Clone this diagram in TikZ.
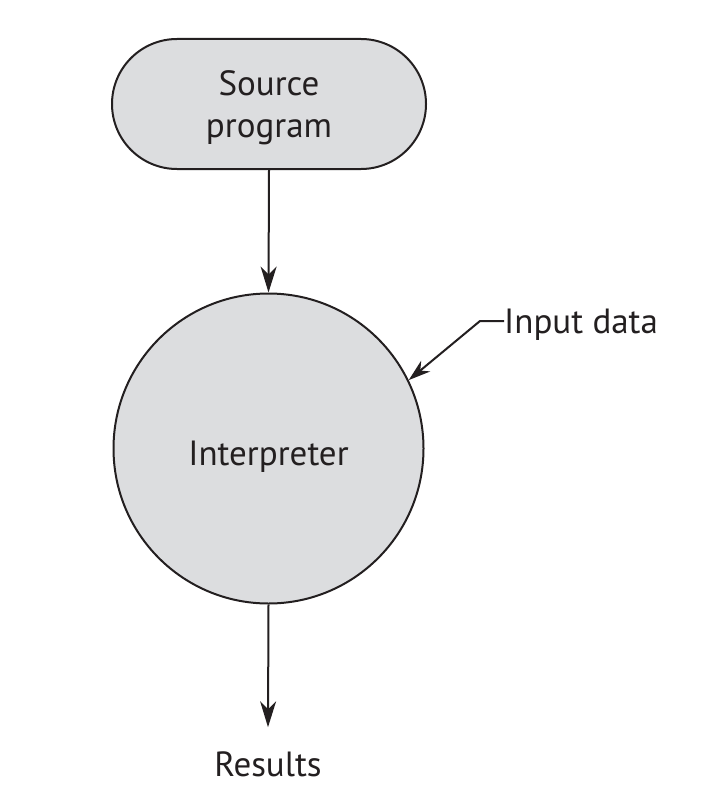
\documentclass[tikz,border=0pt]{standalone}
\usepackage{fontspec}
\setmainfont{PT Sans}
\usetikzlibrary{arrows.meta}
\definecolor{boxgray}{HTML}{DCDDDF}
\definecolor{ink}{HTML}{231F20}
\begin{document}
\begin{tikzpicture}[x=1pt,y=-1pt,
  every node/.style={font=\fontsize{35}{42}\selectfont, text=ink},
  shapebox/.style={draw=ink, line width=2pt, fill=boxgray},
  conn/.style={draw=ink, line width=2pt, -{Stealth[length=26pt,width=16pt,inset=8pt]}}]
\useasboundingbox (0,0) rectangle (725,797);
\node[shapebox, rounded corners=65pt, minimum width=314pt, minimum height=130pt, inner sep=0pt] (src) at (269,104) {\raisebox{8pt}[0pt][0pt]{\begin{tabular}[t]{@{}c@{}}Source\\program\end{tabular}}};
\node[shapebox, circle, minimum size=310pt, inner sep=0pt] (interp) at (268.5,448.5) {\raisebox{-16.5pt}[0pt][0pt]{Interpreter}};
\node[anchor=west, inner sep=0pt] (inp) at (504,325) {Input data};
\coordinate (bend) at (480,321);
\node[inner sep=0pt] (res) at (268,764) {Results};
\draw[conn] (src.south) -- (interp.north);
\draw[conn] (interp.south) -- ([yshift=24pt]res.north);
\draw[conn, -{Stealth[length=22pt,width=14pt,inset=7pt]}] (inp.west |- bend) -- (bend) -- (interp.26.8);
\end{tikzpicture}
\end{document}
